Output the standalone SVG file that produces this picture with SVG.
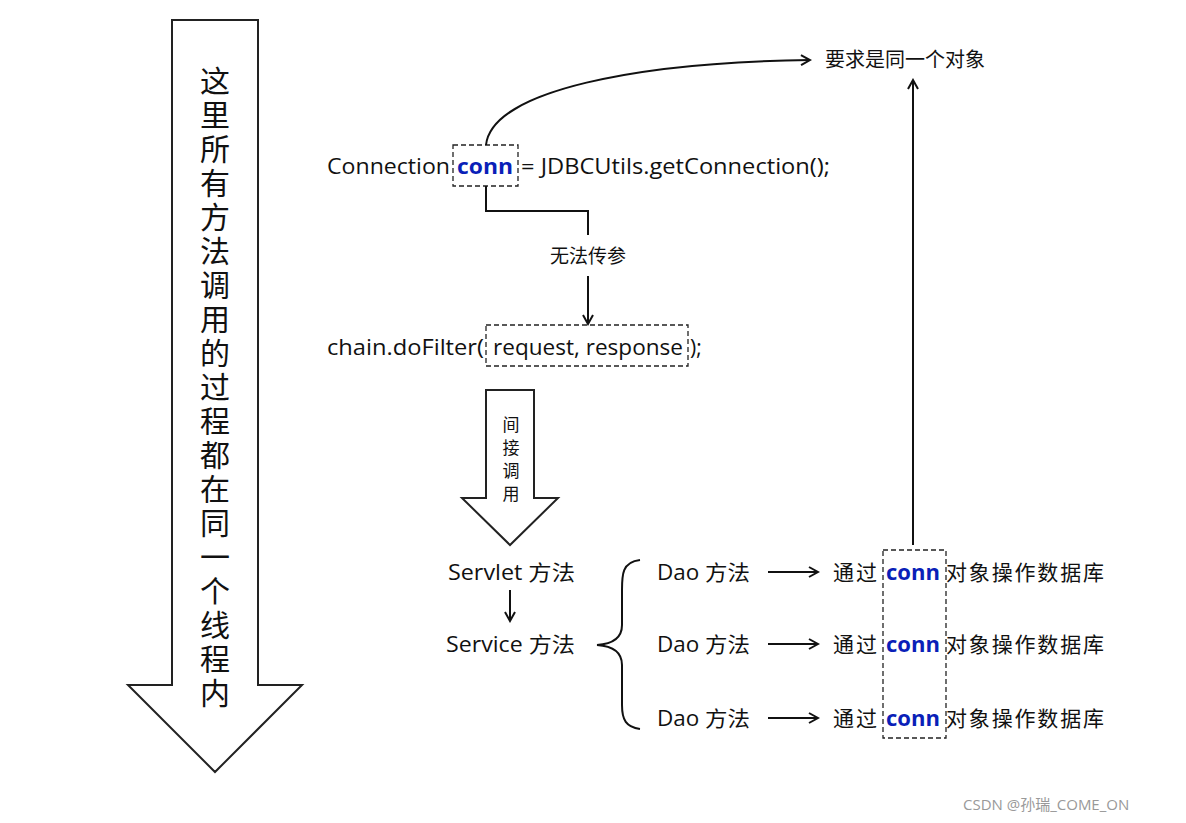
<svg xmlns="http://www.w3.org/2000/svg" width="1186" height="823" viewBox="0 0 1186 823">
<style>
text{font-family:"Open Sans","Noto Sans CJK SC",sans-serif;fill:#111}
.t{font-size:21px}
.c{font-size:21px;font-weight:bold;fill:#0a1fb8}
.cn{font-family:"Noto Sans CJK SC",sans-serif}
.ln{fill:none;stroke:#111;stroke-width:2}
.ds{fill:none;stroke:#222;stroke-width:1.3;stroke-dasharray:5 3}
.big{fill:#fff;stroke:#222;stroke-width:2}
</style>
<defs><marker id="a" markerWidth="12" markerHeight="12" refX="10" refY="6" orient="auto" markerUnits="userSpaceOnUse"><path d="M1,1 L10,6 L1,11" fill="none" stroke="#111" stroke-width="2"/></marker></defs>
<rect width="1186" height="823" fill="#fff"/>
<g id="bigArrow">
<path class="big" d="M172,20 H258 V685 H302 L215,772 L128,685 H172 Z"/>
<text class="cn" font-size="30" x="215" y="66" style="writing-mode:vertical-rl;letter-spacing:4px">这里所有方法调用的过程都在同一个线程内</text>
</g>
<g id="midArrow">
<path class="big" d="M486,390 H534 V498 H558 L510,545 L462,498 H486 Z"/>
<text class="cn" font-size="17" x="511" y="416" style="writing-mode:vertical-rl;letter-spacing:6px">间接调用</text>
</g>
<g id="connLine">
<text class="t" x="327" y="174" textLength="123" lengthAdjust="spacingAndGlyphs">Connection</text>
<rect class="ds" x="453" y="145" width="65" height="41"/>
<text class="c" x="457" y="174" textLength="56" lengthAdjust="spacingAndGlyphs">conn</text>
<text class="t" x="521" y="174" textLength="309" lengthAdjust="spacingAndGlyphs">= JDBCUtils.getConnection();</text>
</g>
<g id="chainLine">
<text class="t" x="327" y="355" textLength="157" lengthAdjust="spacingAndGlyphs">chain.doFilter(</text>
<rect class="ds" x="486" y="325" width="202" height="41"/>
<text class="t" x="493" y="355" textLength="190" lengthAdjust="spacingAndGlyphs">request, response</text>
<text class="t" x="690" y="355">);</text>
</g>
<g id="goal"><text class="cn" font-size="20" x="825" y="67">要求是同一个对象</text></g>
<g id="noParam"><text class="cn" font-size="19" x="588" y="263" text-anchor="middle">无法传参</text></g>
<g id="servlet"><text class="t" x="448" y="580" textLength="127" lengthAdjust="spacingAndGlyphs">Servlet 方法</text></g>
<g id="service"><text class="t" x="446" y="652" textLength="129" lengthAdjust="spacingAndGlyphs">Service 方法</text></g>
<g id="daos">
<text class="t" x="657" y="580" textLength="93" lengthAdjust="spacingAndGlyphs">Dao 方法</text>
<text class="t" x="657" y="652" textLength="93" lengthAdjust="spacingAndGlyphs">Dao 方法</text>
<text class="t" x="657" y="726" textLength="93" lengthAdjust="spacingAndGlyphs">Dao 方法</text>
<text class="t" x="833" y="580" textLength="44">通过</text><text class="c" x="886" y="580" textLength="54" lengthAdjust="spacingAndGlyphs">conn</text><text class="t" x="946" y="580" textLength="158">对象操作数据库</text>
<text class="t" x="833" y="652" textLength="44">通过</text><text class="c" x="886" y="652" textLength="54" lengthAdjust="spacingAndGlyphs">conn</text><text class="t" x="946" y="652" textLength="158">对象操作数据库</text>
<text class="t" x="833" y="726" textLength="44">通过</text><text class="c" x="886" y="726" textLength="54" lengthAdjust="spacingAndGlyphs">conn</text><text class="t" x="946" y="726" textLength="158">对象操作数据库</text>
<rect class="ds" x="883" y="550" width="63" height="188"/>
</g>
<g id="connectors">
<path class="ln" d="M486,145 C492,90 640,62 810,60" marker-end="url(#a)"/>
<path class="ln" d="M486,186 V211 H588 V235" stroke-width="1.6"/>
<path class="ln" d="M588,276 V324" stroke-width="1.6" marker-end="url(#a)"/>
<path class="ln" d="M913,545 V80" marker-end="url(#a)"/>
<path class="ln" d="M510,590 V621" stroke-width="1.6" marker-end="url(#a)"/>
<path class="ln" d="M640,560 C622,562 622,575 622,590 V625 C622,638 612,644 597,645 C612,646 622,652 622,665 V705 C622,720 626,727 640,729"/>
<path class="ln" d="M768,572 H818" stroke-width="1.6" marker-end="url(#a)"/>
<path class="ln" d="M768,644 H818" stroke-width="1.6" marker-end="url(#a)"/>
<path class="ln" d="M768,718 H818" stroke-width="1.6" marker-end="url(#a)"/>
</g>
<text x="963" y="810" font-size="15" style="fill:#999">CSDN @孙瑞_COME_ON</text>
</svg>
